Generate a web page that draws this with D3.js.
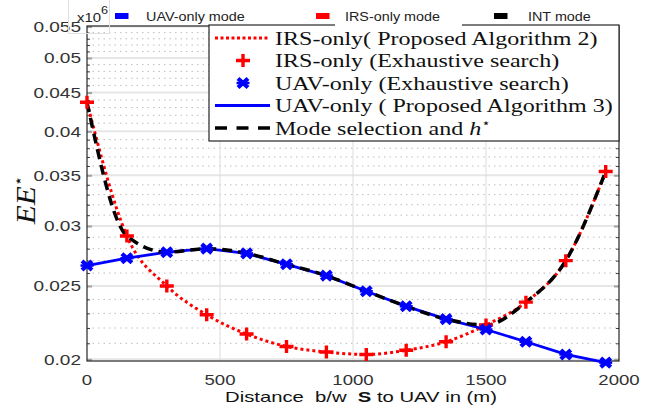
<!DOCTYPE html>
<html>
<head>
<meta charset="utf-8">
<script src="https://cdn.jsdelivr.net/npm/d3@7"></script>
<style>
  html, body { margin: 0; padding: 0; background: #fff; }
  svg { display: block; }
</style>
</head>
<body>
<svg id="chart" width="662" height="408"></svg>
<script>
// Distance between S and the UAV (m)
const distances = [0, 150, 300, 450, 600, 750, 900, 1050, 1200, 1350, 1500, 1650, 1800, 1950];
// Energy efficiency EE* (x10^6) per operating mode
const irsOnly = [0.0437, 0.0291, 0.0250, 0.0229, 0.0216, 0.0208, 0.02045, 0.0203, 0.02056, 0.0211, 0.0222, 0.0238, 0.0270, 0.0354];
const uavOnly = [0.0266, 0.0272, 0.0277, 0.0280, 0.0276, 0.0267, 0.0258, 0.0246, 0.0235, 0.0226, 0.0219, 0.0211, 0.0203, 0.0198];
const modeSelection = [0.0437, 0.0291, 0.0277, 0.0280, 0.0276, 0.0267, 0.0258, 0.0246, 0.0235, 0.0226, 0.0222, 0.0238, 0.0270, 0.0354];

const xTicks = [0, 500, 1000, 1500, 2000];
const xTickLabels = ["0", "500", "1000", "1500", "2000"];
const yTicks = [0.02, 0.025, 0.03, 0.035, 0.04, 0.045, 0.05, 0.055];
const yTickLabels = ["0.02", "0.025", "0.03", "0.035", "0.04", "0.045", "0.05", "0.055"];
const yMinorTicks = [0.021, 0.022, 0.023, 0.024, 0.026, 0.027, 0.028, 0.029, 0.031, 0.032, 0.033, 0.034,
  0.036, 0.037, 0.038, 0.039, 0.041, 0.042, 0.043, 0.044, 0.046, 0.047, 0.048, 0.049, 0.051, 0.052, 0.053, 0.054];

const modeNames = ["UAV-only mode", "IRS-only mode", "INT mode"];
const modeColors = ["#0000ff", "#ff0000", "#000000"];
const legendLabels = [
  "IRS-only( Proposed Algorithm 2)",
  "IRS-only (Exhaustive search)",
  "UAV-only (Exhaustive search)",
  "UAV-only ( Proposed Algorithm 3)",
  "Mode selection and "
];

const svg = d3.select("#chart");
const W = 662, H = 408;
const plot = { left: 87, right: 619, top: 26, bottom: 361 };

const x = d3.scaleLinear().domain([0, 2000]).range([plot.left, plot.right]);
const y = d3.scaleLog().domain([0.0199, 0.0551]).range([plot.bottom, plot.top]);

const axisColor = "#262626";
const sans = "'Liberation Sans', Arial, Helvetica, sans-serif";
const serif = "'Liberation Serif', 'Times New Roman', 'DejaVu Serif', serif";

// place a text horizontally stretched by sx around its anchor
function stretchedText(parent, tx, ty, sx, str, opts) {
  const t = parent.append("text")
    .attr("transform", `translate(${tx},${ty}) scale(${sx},1)`)
    .attr("text-anchor", opts.anchor || "start")
    .attr("font-family", opts.family || sans)
    .attr("font-size", opts.size)
    .attr("fill", opts.fill || axisColor)
    .style("white-space", "pre")
    .text(str);
  return t;
}

svg.append("rect").attr("width", W).attr("height", H).attr("fill", "#fff");

// ---- grid ----
const grid = svg.append("g");
grid.selectAll("line.minor").data(yMinorTicks).join("line")
  .attr("x1", plot.left).attr("x2", plot.right)
  .attr("y1", d => y(d)).attr("y2", d => y(d))
  .attr("stroke", "#bdbdbd").attr("stroke-width", 1)
  .attr("stroke-dasharray", "1.5,4");
grid.selectAll("line.major").data(yTicks).join("line")
  .attr("x1", plot.left).attr("x2", plot.right)
  .attr("y1", d => y(d)).attr("y2", d => y(d))
  .attr("stroke", "#e6e6e6").attr("stroke-width", 2);
grid.selectAll("line.vx").data(xTicks.slice(1, -1)).join("line")
  .attr("x1", d => x(d)).attr("x2", d => x(d))
  .attr("y1", plot.top).attr("y2", plot.bottom)
  .attr("stroke", "#dcdcdc").attr("stroke-width", 1);

// ---- axes frame and ticks ----
const axes = svg.append("g");
const leftAxis = d3.axisLeft(y).tickValues(yMinorTicks).tickSize(-3).tickFormat("");
const rightAxis = d3.axisRight(y).tickValues(yMinorTicks).tickSize(-3).tickFormat("");
axes.append("g").attr("transform", `translate(${plot.left},0)`).call(leftAxis)
  .call(g => g.select(".domain").remove())
  .call(g => g.selectAll(".tick line").attr("stroke", "#404040").attr("stroke-width", 1));
axes.append("g").attr("transform", `translate(${plot.right},0)`).call(rightAxis)
  .call(g => g.select(".domain").remove())
  .call(g => g.selectAll(".tick line").attr("stroke", "#404040").attr("stroke-width", 1));
const leftMajor = d3.axisLeft(y).tickValues(yTicks).tickSize(-5).tickFormat("");
const rightMajor = d3.axisRight(y).tickValues(yTicks).tickSize(-5).tickFormat("");
axes.append("g").attr("transform", `translate(${plot.left},0)`).call(leftMajor)
  .call(g => g.select(".domain").remove())
  .call(g => g.selectAll(".tick line").attr("stroke", "#a0a0a0").attr("stroke-width", 2));
axes.append("g").attr("transform", `translate(${plot.right},0)`).call(rightMajor)
  .call(g => g.select(".domain").remove())
  .call(g => g.selectAll(".tick line").attr("stroke", "#a0a0a0").attr("stroke-width", 2));

axes.append("rect")
  .attr("x", plot.left).attr("y", plot.top)
  .attr("width", plot.right - plot.left).attr("height", plot.bottom - plot.top)
  .attr("fill", "none").attr("stroke", axisColor).attr("stroke-width", 1.2);

// tick labels
const labels = svg.append("g");
yTicks.forEach((v, i) => {
  stretchedText(labels, 81, y(v) + 5.3, 1.27, yTickLabels[i], { anchor: "end", size: 15, fill: "#333" });
});
xTicks.forEach((v, i) => {
  stretchedText(labels, x(v), 384.5, 1.24, xTickLabels[i], { anchor: "middle", size: 15, fill: "#333" });
});

// ---- series ----
const pts = arr => distances.map((d, i) => [x(d), y(arr[i])]);
const series = svg.append("g");

series.append("path")
  .attr("d", d3.line().curve(d3.curveMonotoneX)(pts(irsOnly)))
  .attr("fill", "none").attr("stroke", "#ff0000").attr("stroke-width", 3)
  .attr("stroke-dasharray", "3,3");

series.append("path")
  .attr("d", d3.line()(pts(uavOnly)))
  .attr("fill", "none").attr("stroke", "#0000ff").attr("stroke-width", 2.8);

series.append("path")
  .attr("d", d3.line().curve(d3.curveMonotoneX)(pts(modeSelection)))
  .attr("fill", "none").attr("stroke", "#000").attr("stroke-width", 3.5)
  .attr("stroke-dasharray", "10,6");

// marker shapes
function plusMarker(g, cx, cy) {
  g.append("path")
    .attr("d", `M${cx - 7},${cy}H${cx + 7}M${cx},${cy - 6.5}V${cy + 6.5}`)
    .attr("stroke", "#ff0000").attr("stroke-width", 3.4).attr("fill", "none");
}
function crossMarker(g, cx, cy) {
  g.append("path")
    .attr("d", `M${cx - 5},${cy - 4.5}L${cx + 5},${cy + 4.5}M${cx - 5},${cy + 4.5}L${cx + 5},${cy - 4.5}`)
    .attr("stroke", "#0000ff").attr("stroke-width", 4.2).attr("fill", "none");
  g.append("path")
    .attr("d", `M${cx - 6.5},${cy}H${cx + 6.5}`)
    .attr("stroke", "#0000ff").attr("stroke-width", 2.5).attr("fill", "none");
}
const markers = svg.append("g");
pts(irsOnly).forEach(p => plusMarker(markers, p[0], p[1]));
pts(uavOnly).forEach(p => crossMarker(markers, p[0], p[1]));

// ---- legend box ----
const lg = svg.append("g");
lg.append("rect").attr("x", 209).attr("y", 25).attr("width", 410).attr("height", 116)
  .attr("fill", "#fff").attr("stroke", axisColor).attr("stroke-width", 1.2);
const rowY = [38, 60.5, 83, 105.5, 128];
const sx0 = 215, sx1 = 270, textX = 275;
lg.append("line").attr("x1", sx0).attr("x2", sx1).attr("y1", rowY[0]).attr("y2", rowY[0])
  .attr("stroke", "#ff0000").attr("stroke-width", 3).attr("stroke-dasharray", "3,2.5");
plusMarker(lg, 243, rowY[1]);
crossMarker(lg, 243, rowY[2]);
lg.append("line").attr("x1", sx0).attr("x2", sx1).attr("y1", rowY[3]).attr("y2", rowY[3])
  .attr("stroke", "#0000ff").attr("stroke-width", 2.8);
lg.append("line").attr("x1", sx0).attr("x2", sx1).attr("y1", rowY[4]).attr("y2", rowY[4])
  .attr("stroke", "#000").attr("stroke-width", 3.5).attr("stroke-dasharray", "12,9.5");

// measure natural width of the widest entry to derive a common stretch
const probe = svg.append("text").attr("font-family", serif).attr("font-size", 19).text(legendLabels[3]);
const legendSx = 338 / probe.node().getComputedTextLength();
probe.remove();
legendLabels.forEach((s, i) => {
  const t = stretchedText(lg, textX, rowY[i] + 6.8, legendSx, s, { family: serif, size: 19, fill: "#111" });
  if (i === 4) {
    t.append("tspan").attr("font-style", "italic").text("h");
    t.append("tspan").attr("font-size", 12).attr("dy", -8).attr("font-family", "'DejaVu Sans', sans-serif").text("\u22C6");
  }
});

// ---- mode legend across the top ----
const modeLegend = svg.append("g");
modeLegend.append("rect").attr("x", 335).attr("y", 0).attr("width", 127).attr("height", 26.6).attr("fill", "#fff");
const modeRectX = [115, 316, 494];
const modeTextX = [146, 345, 528];
modeNames.forEach((n, i) => {
  modeLegend.append("rect").attr("x", modeRectX[i]).attr("y", 13).attr("width", 13.5).attr("height", 6)
    .attr("fill", modeColors[i]);
  stretchedText(modeLegend, modeTextX[i], 20.5, 1.15, n, { size: 12.5, fill: "#222" });
});

// exponent label
modeLegend.append("rect").attr("x", 68.5).attr("y", -1).attr("width", 41).attr("height", 34.5)
  .attr("fill", "none").attr("stroke", "#e0e0e0").attr("stroke-width", 1);
const expo = stretchedText(modeLegend, 77, 22, 1.15, "x10", { size: 13, fill: "#222" });
expo.append("tspan").attr("font-size", 11).attr("dy", -8).text("6");

// ---- axis titles ----
const xl = svg.append("text")
  .attr("font-family", sans).attr("font-size", 15).attr("fill", "#111")
  .attr("text-anchor", "middle");
xl.append("tspan").text("Distance\u00A0\u00A0b/w\u00A0\u00A0");
xl.append("tspan").attr("font-weight", "bold").text("S");
xl.append("tspan").text("\u00A0to UAV in (m)");
const xlw = xl.node().getComputedTextLength();
xl.attr("transform", `translate(361,401.5) scale(${272 / xlw},1)`);

const yl = svg.append("text")
  .attr("font-family", serif).attr("font-size", 24).attr("fill", "#111")
  .attr("text-anchor", "middle")
  .attr("transform", "translate(35,200) rotate(-90) scale(1.3,1.12)");
yl.append("tspan").attr("font-style", "italic").text("EE");
yl.append("tspan").attr("font-size", 13).attr("dy", -11).attr("font-family", "'DejaVu Sans', sans-serif").text("\u22C6");
</script>
</body>
</html>
